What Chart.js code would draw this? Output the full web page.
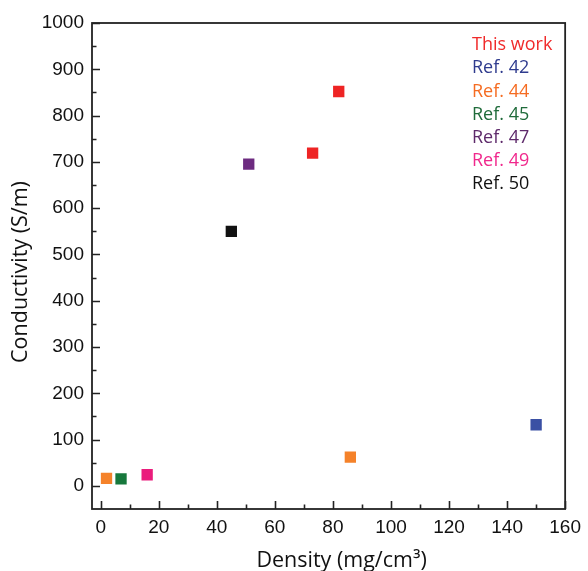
<!DOCTYPE html>
<html>
<head>
<meta charset="utf-8">
<style>
  html, body { margin: 0; padding: 0; background: #fff; }
  #wrap { width: 588px; height: 571px; position: relative; }
</style>
<script src="https://cdn.jsdelivr.net/npm/chart.js@4/dist/chart.umd.min.js"></script>
</head>
<body>
<div id="wrap"><canvas id="c" width="588" height="571"></canvas></div>
<script>
// Series: density (mg/cm3) and conductivity (S/m) for each source
const seriesNames = ['This work', 'Ref. 42', 'Ref. 44', 'Ref. 45', 'Ref. 47', 'Ref. 49', 'Ref. 50'];
const densityValues = [
  [73, 82],
  [150],
  [2, 86],
  [7],
  [51],
  [16],
  [45]
];
const conductivityValues = [
  [719, 852],
  [132],
  [16, 62],
  [15],
  [695],
  [24],
  [550]
];
const markerColors = ['#ee2424', '#3a50a4', '#f5822a', '#17783c', '#6d2b80', '#ea1c7c', '#111111'];
const labelColors  = ['#f02a2a', '#2f3b8e', '#f56c22', '#1f6b3a', '#5e2a6b', '#f0288c', '#111111'];
const xTickValues = [0, 20, 40, 60, 80, 100, 120, 140, 160];
const yTickValues = [0, 100, 200, 300, 400, 500, 600, 700, 800, 900, 1000];
const xTitle = 'Density (mg/cm³)';
const yTitle = 'Conductivity (S/m)';

const datasets = seriesNames.map((name, i) => ({
  label: name,
  data: densityValues[i].map((x, j) => ({ x: x, y: conductivityValues[i][j] })),
  backgroundColor: markerColors[i],
  borderColor: markerColors[i],
  borderWidth: 0,
  pointStyle: 'rect',
  pointRadius: 8,
  pointHoverRadius: 8
}));

const titleFont = '21.5px "Open Sans"';

// Frame, inward major/minor ticks, axis titles and the text legend inside the plot
const framePlugin = {
  id: 'frame',
  afterDraw(chart) {
    const ctx = chart.ctx;
    const a = chart.chartArea;
    const xs = chart.scales.x, ys = chart.scales.y;
    ctx.save();
    ctx.strokeStyle = '#222';
    ctx.lineWidth = 1.6;
    ctx.lineCap = 'butt';
    ctx.beginPath();
    // major ticks
    xTickValues.forEach(v => {
      const px = Math.round(xs.getPixelForValue(v)) + 0.5;
      ctx.moveTo(px, a.bottom); ctx.lineTo(px, a.bottom - 8);
    });
    yTickValues.forEach(v => {
      const py = Math.round(ys.getPixelForValue(v)) + 0.5;
      ctx.moveTo(a.left, py); ctx.lineTo(a.left + 8, py);
    });
    // minor ticks halfway between majors
    for (let k = 0; k < xTickValues.length - 1; k++) {
      const v = (xTickValues[k] + xTickValues[k + 1]) / 2;
      const px = Math.round(xs.getPixelForValue(v)) + 0.5;
      ctx.moveTo(px, a.bottom); ctx.lineTo(px, a.bottom - 4.5);
    }
    for (let k = 0; k < yTickValues.length - 1; k++) {
      const v = (yTickValues[k] + yTickValues[k + 1]) / 2;
      const py = Math.round(ys.getPixelForValue(v)) + 0.5;
      ctx.moveTo(a.left, py); ctx.lineTo(a.left + 4.5, py);
    }
    ctx.stroke();
    ctx.lineWidth = 1.8;
    ctx.strokeRect(a.left, a.top, a.right - a.left, a.bottom - a.top);

    // axis titles
    ctx.fillStyle = '#111';
    ctx.font = titleFont;
    ctx.textAlign = 'center';
    ctx.textBaseline = 'alphabetic';
    ctx.fillText(xTitle, (a.left + a.right) / 2 + 13, 567);
    ctx.save();
    ctx.translate(27, (a.top + a.bottom) / 2 + 6);
    ctx.rotate(-Math.PI / 2);
    ctx.fillText(yTitle, 0, 0);
    ctx.restore();

    // legend: coloured names only
    ctx.font = '18px "Open Sans"';
    ctx.textAlign = 'left';
    ctx.textBaseline = 'middle';
    seriesNames.forEach((name, i) => {
      ctx.fillStyle = labelColors[i];
      ctx.fillText(name, 472, 45 + i * 23.2);
    });
    ctx.restore();
  }
};

new Chart(document.getElementById('c'), {
  type: 'scatter',
  data: { datasets },
  plugins: [framePlugin],
  options: {
    responsive: false,
    animation: false,
    events: [],
    layout: { padding: { top: 23, right: 20, left: 0, bottom: 0 } },
    plugins: { legend: { display: false }, tooltip: { enabled: false } },
    scales: {
      x: {
        type: 'linear',
        min: -3,
        max: 160,
        afterBuildTicks(scale) { scale.ticks = xTickValues.map(v => ({ value: v })); },
        afterFit(scale) { scale.height = 62; },
        grid: { display: false, drawTicks: false },
        border: { display: false },
        ticks: {
          padding: 7,
          color: '#111',
          callback: v => String(v),
          font: { family: '"Liberation Sans", Arial, sans-serif', size: 19 }
        }
      },
      y: {
        type: 'linear',
        min: -50,
        max: 1000,
        afterBuildTicks(scale) { scale.ticks = yTickValues.map(v => ({ value: v })); },
        afterFit(scale) { scale.width = 92; },
        grid: { display: false, drawTicks: false },
        border: { display: false },
        ticks: {
          padding: 8,
          color: '#111',
          callback: v => String(v),
          font: { family: '"Liberation Sans", Arial, sans-serif', size: 19 }
        }
      }
    }
  }
});
</script>
</body>
</html>
